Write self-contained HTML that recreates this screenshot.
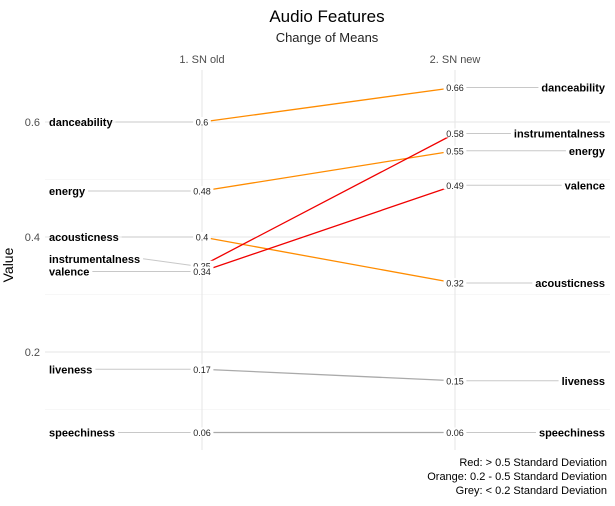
<!DOCTYPE html>
<html><head><meta charset="utf-8"><style>
body{margin:0;background:#fff;font-family:"Liberation Sans",sans-serif}
</style></head><body>
<svg id="c" width="615" height="501" xmlns="http://www.w3.org/2000/svg" font-family="Liberation Sans, sans-serif">
<text x="327" y="22" text-anchor="middle" font-size="17" fill="#000">Audio Features</text>
<text x="327" y="42" text-anchor="middle" font-size="13" fill="#222">Change of Means</text>
<text x="13" y="265" transform="rotate(-90 13 265)" text-anchor="middle" font-size="14" fill="#000">Value</text>
<g id="grid"></g><g id="lines"></g><g id="labels"></g>
<g font-size="11" fill="#000" text-anchor="end">
<text x="607" y="466">Red: &gt; 0.5 Standard Deviation</text>
<text x="607" y="480">Orange: 0.2 - 0.5 Standard Deviation</text>
<text x="607" y="494">Grey: &lt; 0.2 Standard Deviation</text>
</g>
</svg>
<script>
const features=["danceability","energy","acousticness","instrumentalness","valence","liveness","speechiness"];
const oldVals=[0.6,0.48,0.4,0.35,0.34,0.17,0.06];
const newVals=[0.66,0.55,0.32,0.58,0.49,0.15,0.06];
const changeClass=["orange","orange","orange","red","red","grey","grey"];
const columns=["1. SN old","2. SN new"];
const yTicks=[0.2,0.4,0.6];
const yMinor=[0.1,0.3,0.5];
const colorMap={red:"#f00000",orange:"#ff8c00",grey:"#aaaaaa"};
const NS="http://www.w3.org/2000/svg";
const y=v=>122+(0.6-v)*575;
const xCol=[202,455];
function mk(t,a,p){const e=document.createElementNS(NS,t);for(const k in a)e.setAttribute(k,a[k]);p.appendChild(e);return e;}
const G=document.getElementById('grid'),L=document.getElementById('lines'),T=document.getElementById('labels');
yMinor.forEach(v=>{const e=mk('line',{x1:45,x2:610,y1:y(v),y2:y(v),stroke:'#f0f0f0','stroke-width':0.6},G);

});
yTicks.forEach(v=>{const e=mk('line',{x1:45,x2:610,y1:y(v),y2:y(v),stroke:'#e6e6e6','stroke-width':1},G);


const t=mk('text',{x:40,y:y(v)+4,'text-anchor':'end','font-size':11,fill:'#4d4d4d'},G);t.textContent=v.toFixed(1);

});
columns.forEach((c,i)=>{const e=mk('line',{x1:xCol[i],x2:xCol[i],y1:70,y2:450,stroke:'#e6e6e6','stroke-width':1},G);


const t=mk('text',{x:xCol[i],y:63,'text-anchor':'middle','font-size':11,fill:'#4d4d4d'},G);t.textContent=c;

});
const nudgeL={instrumentalness:-7};
features.forEach((f,i)=>{
 const y0=y(oldVals[i]),y1=y(newVals[i]);
 const ln=mk('line',{x1:xCol[0],y1:y0,x2:xCol[1],y2:y1,stroke:colorMap[changeClass[i]],'stroke-width':1.3},L);
 
 
 const ly=y0+(nudgeL[f]||0);
 const lt=mk('text',{x:49,y:ly+4,'font-size':11,'font-weight':'bold',fill:'#000'},T);lt.textContent=f;
 
 
 const w=lt.getComputedTextLength();
 mk('line',{x1:49+w+3,y1:ly,x2:xCol[0]-8,y2:y0,stroke:'#c8c8c8','stroke-width':1},L);
 const rt=mk('text',{x:605,y:y1+4,'font-size':11,'font-weight':'bold','text-anchor':'end',fill:'#000'},T);rt.textContent=f;
 
 
 const rw=rt.getComputedTextLength();
 mk('line',{x1:xCol[1]+8,y1:y1,x2:605-rw-3,y2:y1,stroke:'#c8c8c8','stroke-width':1},L);
 [[0,oldVals[i],y0],[1,newVals[i],y1]].forEach(([c,v,yy])=>{
  const s=String(v);
  mk('rect',{x:xCol[c]-s.length*2.6-1,y:yy-5,width:s.length*5.2+2,height:9,fill:'#fff'},T);
  const vt=mk('text',{x:xCol[c],y:yy+3.5,'font-size':9,'text-anchor':'middle',fill:'#222'},T);vt.textContent=s;
  
  
 });
});
</script>
</body></html>
